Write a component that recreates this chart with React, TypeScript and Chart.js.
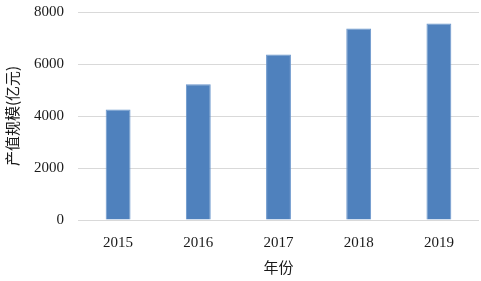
import React, { useEffect, useRef } from "react";
import { Chart, registerables } from "chart.js";

Chart.register(...registerables);

const years = ["2015", "2016", "2017", "2018", "2019"];
const values = [4250, 5220, 6370, 7370, 7560];
const yTicks = [0, 2000, 4000, 6000, 8000];
const xTitle = "年份";
const yTitle = "产值规模(亿元)";

const FONT = "'Liberation Serif', 'Times New Roman', 'Noto Sans CJK SC', serif";

export default function App() {
  const ref = useRef<HTMLCanvasElement | null>(null);
  useEffect(() => {
    document.body.style.margin = "0";
    const ctx = ref.current!;
    const chart = new Chart(ctx, {
      type: "bar",
      data: {
        labels: years,
        datasets: [
          {
            data: values,
            backgroundColor: "#4F81BD",
            borderColor: "#6A96CC",
            borderWidth: 1,
            barPercentage: 0.31,
            categoryPercentage: 1,
          },
        ],
      },
      options: {
        animation: false,
        responsive: false,
        maintainAspectRatio: false,
        layout: { padding: { top: 12, right: 2, left: 0, bottom: 0 } },
        plugins: { legend: { display: false }, tooltip: { enabled: false } },
        scales: {
          x: {
            grid: { display: false, drawTicks: false },
            border: { display: false },
            ticks: { color: "#1a1a1a", font: { family: FONT, size: 15 }, padding: 14 },
            title: {
              display: true,
              text: xTitle,
              color: "#1a1a1a",
              font: { family: "'Noto Sans CJK SC', sans-serif", size: 15 },
              padding: { top: 4, bottom: 5 },
            },
            afterFit: (s: any) => {
              s.height = 61;
              s.paddingLeft = 0;
              s.paddingRight = 0;
            },
          },
          y: {
            min: 0,
            max: 8000,
            afterBuildTicks: (s: any) => {
              s.ticks = yTicks.map((v) => ({ value: v }));
            },
            grid: { color: "#D9D9D9", drawTicks: false, lineWidth: 1 },
            border: { display: false },
            ticks: {
              color: "#1a1a1a",
              font: { family: FONT, size: 15 },
              padding: 14,
              callback: (v: any) => String(v),
            },
            title: {
              display: true,
              text: yTitle,
              color: "#1a1a1a",
              font: { family: "'Noto Sans CJK SC', sans-serif", size: 15 },
              padding: { top: 3, bottom: 0 },
            },
            afterFit: (s: any) => {
              s.width = 78;
              s.paddingTop = 0;
              s.paddingBottom = 0;
            },
          },
        },
      },
    });
    return () => chart.destroy();
  }, []);
  return (
    <div style={{ width: 481, height: 281, background: "#fff" }}>
      <canvas ref={ref} width={481} height={281} style={{ display: "block" }} />
    </div>
  );
}
